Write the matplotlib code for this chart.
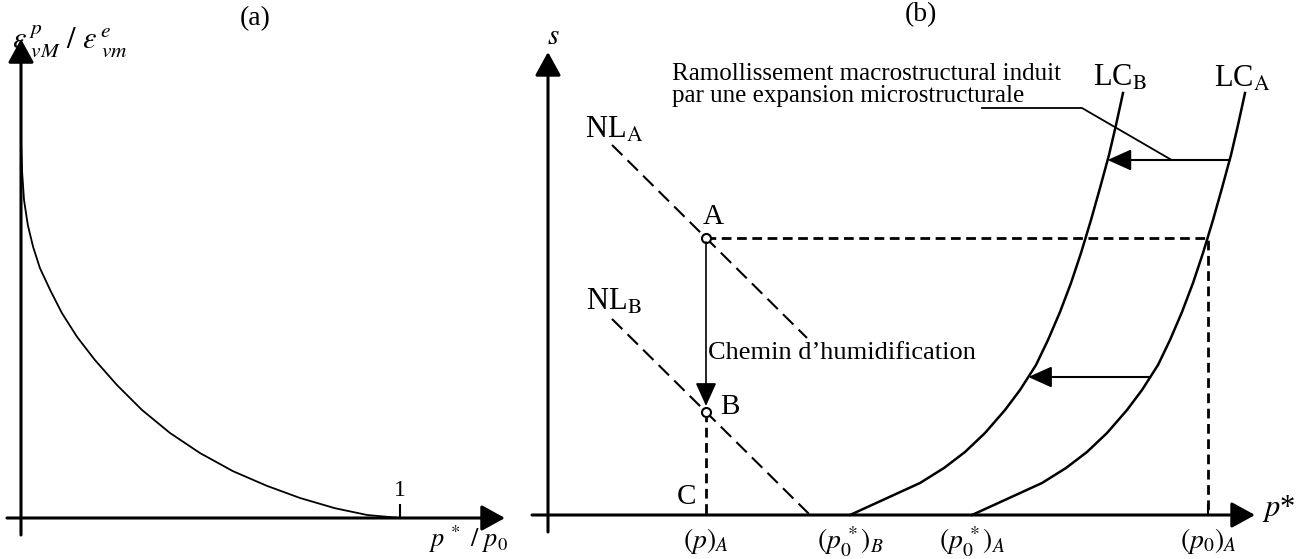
import numpy as np
import matplotlib.pyplot as plt

plt.rcParams['font.family'] = ['Liberation Serif', 'DejaVu Serif']
plt.rcParams['mathtext.fontset'] = 'stix'

# (a) rapport des deformations en fonction de p*/p0
ratio_p = [0.000, 0.003, 0.008, 0.018, 0.032, 0.050, 0.077, 0.108, 0.148, 0.195,
           0.253, 0.319, 0.393, 0.472, 0.559, 0.649, 0.736, 0.828, 0.913, 1.000]
ratio_eps = [1.000, 0.915, 0.841, 0.775, 0.717, 0.661, 0.603, 0.542, 0.479, 0.418,
             0.352, 0.286, 0.225, 0.172, 0.124, 0.085, 0.053, 0.026, 0.008, 0.000]

# (b) plan (p*, s)
p_A = 1.58      # (p)_A
p0s_B = 3.02    # (p0*)_B
p0s_A = 4.24    # (p0*)_A
p0_A = 6.60     # (p0)_A
s_A = 2.77
s_B = 1.03
nl_slope = -0.99
nl_start = 0.64
nl_end = [2.59, 2.62]

lc_s = [0.00, 0.16, 0.32, 0.47, 0.63, 0.82, 1.05, 1.25, 1.50, 1.75, 2.03, 2.32,
        2.62, 2.95, 3.27, 3.60, 3.90, 4.22]
lcB_p = [3.02, 3.37, 3.72, 3.96, 4.17, 4.37, 4.57, 4.72, 4.88, 5.00, 5.12, 5.23,
         5.33, 5.43, 5.52, 5.61, 5.68, 5.75]
lcA_p = [4.24, 4.59, 4.94, 5.18, 5.39, 5.59, 5.79, 5.94, 6.10, 6.22, 6.34, 6.45,
         6.55, 6.65, 6.74, 6.83, 6.90, 6.97]

s_arrows = [3.55, 1.38]   # decalage LC_A -> LC_B

fig = plt.figure(figsize=(13.04, 5.59), dpi=100)
W, H = 1304, 559

# chaque panneau occupe toute la figure, l'origine est placee par les limites
ax_a = fig.add_axes([0, 0, 1, 1])
ox, oy, sx, sy = 21, 518, 379, 378
ax_a.set_xlim(-ox / sx, (W - ox) / sx)
ax_a.set_ylim(-(H - oy) / sy, oy / sy)

ax_b = fig.add_axes([0, 0, 1, 1])
ox, oy, sc = 548, 515, 100
ax_b.set_xlim(-ox / sc, (W - ox) / sc)
ax_b.set_ylim(-(H - oy) / sc, oy / sc)

for ax in (ax_a, ax_b):
    ax.axis('off')
    ax.patch.set_alpha(0)


def arrow(ax, x0, y0, x1, y1, lw=2.2, hl=20, hw=22):
    # hl, hw en pixels
    style = '-|>,head_length=%.2f,head_width=%.2f' % (hl * 0.72, hw / 2 * 0.72)
    ax.annotate('', xy=(x1, y1), xytext=(x0, y0),
                arrowprops=dict(arrowstyle=style, lw=lw, color='black',
                                shrinkA=0, shrinkB=0, mutation_scale=1))


# ---- (a)
arrow(ax_a, -0.037, 0, 1.277, 0)
arrow(ax_a, 0, -0.045, 0, 1.267)
ax_a.plot(ratio_p, ratio_eps, color='black', lw=1.3)
ax_a.plot([1, 1], [0, 0.034], color='black', lw=1.5)
ax_a.text(1, 0.045, '1', ha='center', va='bottom', fontsize=17)
ax_a.text(1.18, -0.055, r'$p^{\,*}\ /\ p_0$', ha='center', va='center', fontsize=19)
ax_a.text(-0.024, 1.262, r'$\varepsilon^{\,p}_{\ vM}\ /\ \varepsilon^{\,e}_{\ vm}$',
          ha='left', va='center', fontsize=22)
fig.text(255 / W, 1 - 19 / H, '(a)', ha='center', va='center', fontsize=20)

# ---- (b)
arrow(ax_b, -0.16, 0, 7.07, 0)
arrow(ax_b, 0, -0.17, 0, 4.63)

# lignes NL
for s0, p_end, lab, ly in [(s_A, nl_end[0], 'NL$_\\mathrm{A}$', 3.85),
                           (s_B, nl_end[1], 'NL$_\\mathrm{B}$', 2.13)]:
    p_line = [nl_start, p_end]
    s_line = [s0 + nl_slope * (p - p_A) for p in p_line]
    ax_b.plot(p_line, s_line, color='black', lw=1.5, ls=(0, (7, 3.5)))
    ax_b.text(0.66, ly, lab, ha='center', va='center', fontsize=22)

# courbes LC
ax_b.plot(lcB_p, lc_s, color='black', lw=1.8)
ax_b.plot(lcA_p, lc_s, color='black', lw=1.8)
ax_b.text(5.72, 4.37, 'LC$_\\mathrm{B}$', ha='center', va='center', fontsize=22)
ax_b.text(6.94, 4.36, 'LC$_\\mathrm{A}$', ha='center', va='center', fontsize=22)

for s0 in s_arrows:
    arrow(ax_b, np.interp(s0, lc_s, lcA_p), s0, np.interp(s0, lc_s, lcB_p), s0,
          lw=1.5, hl=20, hw=18)

# pointilles de A vers (p0)_A et de B vers C
ax_b.plot([p_A, p0_A, p0_A], [s_A, s_A, 0], color='black', lw=2,
          ls=(0, (3.5, 2)))
ax_b.plot([p_A, p_A], [s_B, 0], color='black', lw=2, ls=(0, (3.5, 2)))
ax_b.plot([p0_A, p0_A], [0, 0.1], color='black', lw=1.5)

# chemin d'humidification A -> B
arrow(ax_b, p_A, s_A - 0.04, p_A, s_B + 0.06, lw=1.2, hl=20, hw=18)
ax_b.plot([p_A, p_A], [s_A, s_B], 'o', ms=6.5, mfc='white', mec='black', mew=1.5)
ax_b.text(1.65, 2.98, 'A', ha='center', va='center', fontsize=21)
ax_b.text(1.82, 1.08, 'B', ha='center', va='center', fontsize=21)
ax_b.text(1.38, 0.18, 'C', ha='center', va='center', fontsize=21)
ax_b.text(1.60, 1.62, 'Chemin d\u2019humidification', ha='left', va='center',
          fontsize=19)

# annotation du ramollissement
p_lead = np.interp(s_arrows[0], lc_s, lcA_p) - 0.58
ax_b.plot([4.34, 5.34, p_lead], [4.07, 4.07, s_arrows[0]], color='black', lw=1.3)
ax_b.text(1.24, 4.30, 'Ramollissement macrostructural induit\npar une expansion microstructurale',
          ha='left', va='center', fontsize=18, linespacing=1.0)

ax_b.text(0.05, 4.78, r'$s$', ha='center', va='center', fontsize=21)
ax_b.text(7.14, 0.07, r'$p$*', ha='left', va='center', fontsize=22)

ticks = [(p_A, r'$(p)_A$'), (p0s_B, r'$(p_0^{\,*})_B$'),
         (p0s_A, r'$(p_0^{\,*})_A$'), (p0_A, r'$(p_0)_A$')]
for pv, lab in ticks:
    ax_b.text(pv, -0.265, lab, ha='center', va='center', fontsize=20)
fig.text(921 / W, 1 - 15 / H, '(b)', ha='center', va='center', fontsize=20)

fig.savefig('out.png', dpi=100)
